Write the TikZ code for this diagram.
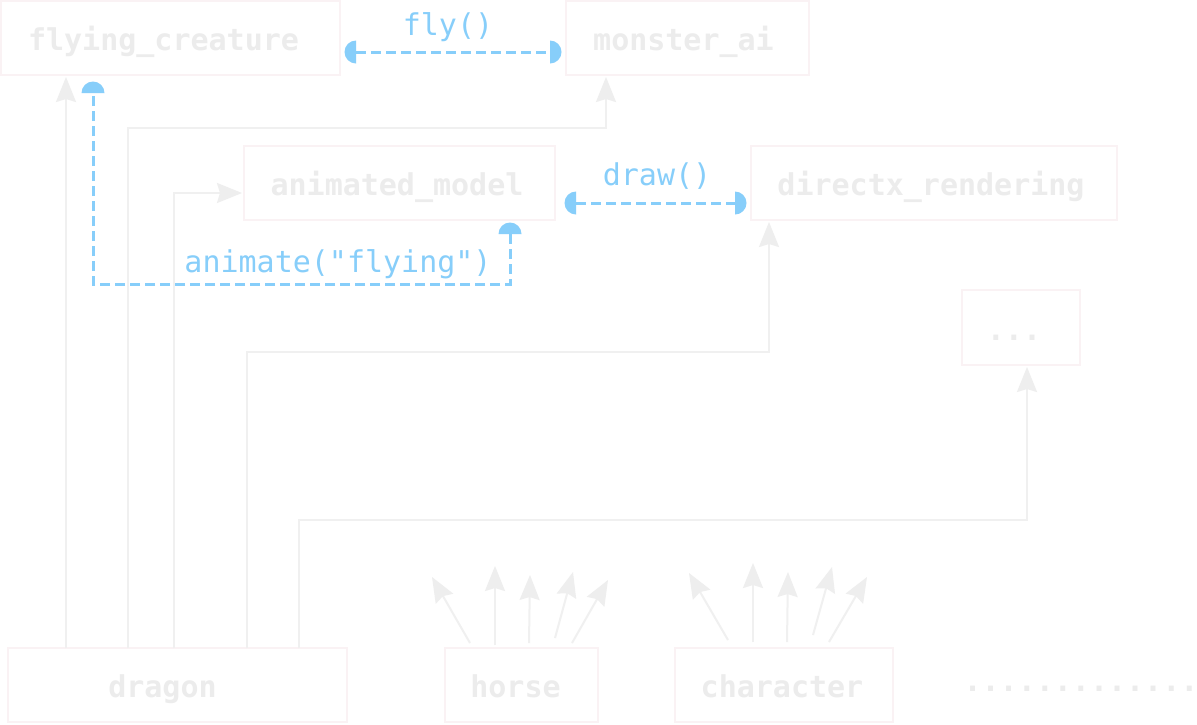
\documentclass[tikz,border=0pt]{standalone}
\usepackage{fontspec}
\setmonofont{DejaVu Sans Mono}
\usetikzlibrary{arrows.meta,calc}
\definecolor{txtc}{RGB}{236,236,236}
\definecolor{boxc}{RGB}{250,242,244}
\definecolor{linec}{RGB}{240,240,240}
\definecolor{tipc}{RGB}{238,238,238}
\definecolor{bluec}{RGB}{135,206,250}
\newcommand{\lft}[2]{#2\hspace*{#1}}
\tikzset{
  box/.style={draw=boxc, line width=2.2pt, inner sep=0pt, outer sep=0pt,
    font=\ttfamily\bfseries\fontsize{30}{30}\selectfont, text=txtc,
    text height=25pt, text depth=0pt, minimum height=74pt},
  conn/.style={draw=linec, line width=2pt,
    -{Stealth[length=25pt,width=20pt,inset=3pt,fill=tipc,color=tipc]}, shorten >=2pt},
  fan/.style={draw=linec, line width=2pt,
    -{Stealth[length=25pt,width=20pt,inset=3pt,fill=tipc,color=tipc]}},
  bl/.style={draw=bluec, line width=3pt, dash pattern=on 10pt off 5pt},
  blcap/.style={fill=bluec},
  bltext/.style={font=\ttfamily\fontsize{30}{30}\selectfont, text=bluec, anchor=base, inner sep=0pt}
}
\begin{document}
\begin{tikzpicture}[x=1pt,y=-1pt]
\useasboundingbox[fill=white] (0,0) rectangle (1197,724);

% boxes
\node[box, minimum width=339pt] (fc) at (170.5,38) {\lft{14pt}{flying\_creature}};
\node[box, minimum width=243pt] (ma) at (687.5,38) {\lft{8pt}{monster\_ai}};
\node[box, minimum width=311pt] (am) at (399.5,183) {\lft{5pt}{animated\_model}};
\node[box, minimum width=366pt] (dx) at (934,183) {\lft{6pt}{directx\_rendering}};
\node[box, minimum width=118pt, minimum height=75pt] (etc) at (1021,327.5) {\lft{14pt}{...}};
\node[box, minimum width=339pt] (dragon) at (177.5,685) {\lft{30pt}{dragon}};
\node[box, minimum width=153pt] (horse) at (521.5,685) {\lft{12pt}{horse}};
\node[box, minimum width=218pt] (character) at (784,685) {\lft{4pt}{character}};
\node[font=\ttfamily\bfseries\fontsize{30}{30}\selectfont, text=txtc, anchor=base, inner sep=0pt] (more) at (1081,691) {.............};

% gray connectors from dragon
\draw[conn] ([xshift=58pt]dragon.north west) -- ([xshift=65pt]fc.south west);
\draw[conn] ([xshift=120pt]dragon.north west) -- ++(0,-520) -| ([xshift=40pt]ma.south west);
\draw[conn] ([xshift=166pt]dragon.north west) |- ([yshift=27pt]am.south west);
\draw[conn] ([xshift=239pt]dragon.north west) -- ++(0,-296) -| ([xshift=18pt]dx.south west);
\draw[conn] ([xshift=291pt]dragon.north west) -- ++(0,-128) -| ([xshift=65pt]etc.south west);

% fan arrows over horse
\coordinate (h1a) at (470,643); \coordinate (h1b) at (432,577);
\coordinate (h2a) at (495,645); \coordinate (h2b) at (495,566);
\coordinate (h3a) at (529,643); \coordinate (h3b) at (530,575);
\coordinate (h4a) at (555,638); \coordinate (h4b) at (573,572);
\coordinate (h5a) at (572,643); \coordinate (h5b) at (608,580);
\foreach \i in {1,...,5} {\draw[fan] (h\i a) -- (h\i b);}
% fan arrows over character
\coordinate (c1a) at (728,640); \coordinate (c1b) at (689,573);
\coordinate (c2a) at (753,642); \coordinate (c2b) at (753,563);
\coordinate (c3a) at (787,642); \coordinate (c3b) at (788,572);
\coordinate (c4a) at (813,635); \coordinate (c4b) at (832,567);
\coordinate (c5a) at (829,642); \coordinate (c5b) at (867,577);
\foreach \i in {1,...,5} {\draw[fan] (c\i a) -- (c\i b);}

% blue dashed connectors
\coordinate (f1) at ([xshift=16pt,yshift=-14pt]fc.east);
\coordinate (f2) at ([xshift=-16pt,yshift=-14pt]ma.west);
\draw[bl] (f1) -- (f2);
\fill[blcap] (f1) ++(0,11.5) arc[start angle=90,end angle=270,radius=11.5] -- cycle;
\fill[blcap] (f2) ++(0,-11.5) arc[start angle=-90,end angle=90,radius=11.5] -- cycle;
\node[bltext] (flyl) at (448,35) {fly()};

\coordinate (d1) at ([xshift=21pt,yshift=-20pt]am.east);
\coordinate (d2) at ([xshift=-16pt,yshift=-20pt]dx.west);
\draw[bl] (d1) -- (d2);
\fill[blcap] (d1) ++(0,11.5) arc[start angle=90,end angle=270,radius=11.5] -- cycle;
\fill[blcap] (d2) ++(0,-11.5) arc[start angle=-90,end angle=90,radius=11.5] -- cycle;
\node[bltext] (drawl) at (657,185) {draw()};

\coordinate (a1) at ([xshift=110.5pt,yshift=-14pt]am.south);
\coordinate (a2) at ([xshift=-77.5pt,yshift=-18pt]fc.south);
\draw[bl] (a1) -- ++(0,50) -| (a2);
\fill[blcap] (a1) ++(11.5,0) arc[start angle=0,end angle=-180,radius=11.5] -- cycle;
\fill[blcap] (a2) ++(11.5,0) arc[start angle=0,end angle=-180,radius=11.5] -- cycle;
\node[bltext] (animl) at (338,272) {animate("flying")};
\end{tikzpicture}
\end{document}
